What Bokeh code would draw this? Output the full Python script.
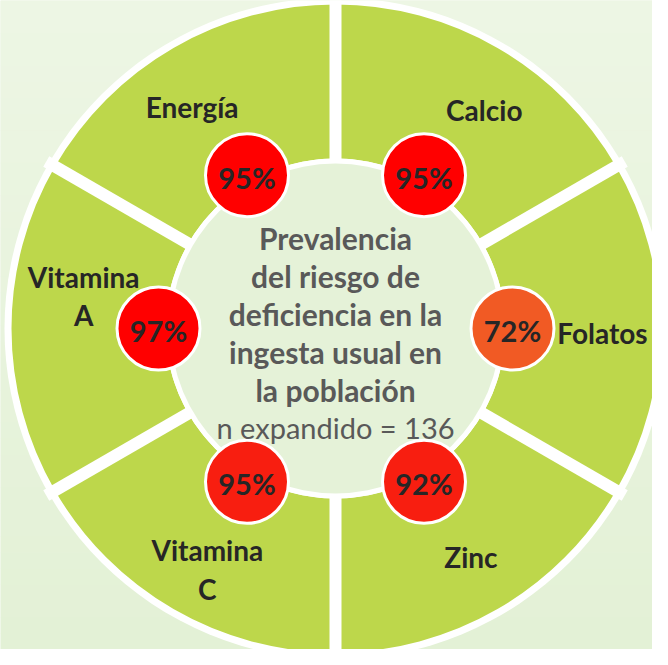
import numpy as np
from bokeh.plotting import figure
from bokeh.models import Range1d
from bokeh.core.properties import value
from bokeh.embed import file_html
from bokeh.resources import INLINE

# ---- data ----
nutrients = ["Calcio", "Folatos", "Zinc", "Vitamina\nC", "Vitamina\nA", "Energía"]
prevalence = [95, 72, 92, 95, 97, 95]
bubble_colors = ["#ff0000", "#f15a24", "#f81e10", "#f81e10", "#ff0000", "#ff0000"]
title_lines = ["Prevalencia", "del riesgo de", "deficiencia en la",
               "ingesta usual en", "la población"]
n_expandido = 136

# ---- layout tweaks for the label placement (not data) ----
label_radius = [264, 267, 266, 273, 254, 264]
label_turn = [-4.3, -1.0, 0.6, 2.0, -7.4, 2.9]   # degrees relative to segment centre

# ---- style ----
FONT = value("Lato")
GREEN = "#bdd74b"
BG_TOP = np.array([237, 246, 228])
BG_BOTTOM = np.array([227, 241, 214])
CENTER_BG = "#e5f2d8"
DARK = "#262626"
GREY = "#595959"
R_OUT, R_IN = 324, 170
R_BUBBLE = 177

X0, X1, Y0, Y1 = -335, 317, -321, 328
p = figure(width=652, height=649, x_range=Range1d(X0, X1), y_range=Range1d(Y0, Y1),
           output_backend="svg", toolbar_location=None, min_border=0,
           background_fill_color="#e8f3dd", border_fill_color="#e8f3dd")
p.axis.visible = False
p.grid.visible = False
p.outline_line_color = None

# soft vertical background gradient
nb = 40
edges = np.linspace(Y1, Y0, nb + 1)
tcol = np.linspace(0, 1, nb)
cols = ["#%02x%02x%02x" % tuple(np.round(BG_TOP + (BG_BOTTOM - BG_TOP) * t).astype(int)) for t in tcol]
p.quad(left=X0, right=X1, top=edges[:-1], bottom=edges[1:] - 0.5, fill_color=cols, line_color=None)

nseg = len(nutrients)
step = 360.0 / nseg
centers = np.array([60.0 - i * step for i in range(nseg)])
rad = np.deg2rad(centers)

# outer white ring
p.circle(x=0, y=0, radius=R_OUT + 7, fill_color="white", line_color=None)
# green segments
p.annular_wedge(x=0, y=0, inner_radius=R_IN, outer_radius=R_OUT,
                start_angle=np.deg2rad(centers - step / 2), end_angle=np.deg2rad(centers + step / 2),
                fill_color=GREEN, line_color=None)
# separators
sep = np.deg2rad(centers + step / 2)
p.segment(x0=(R_IN - 10) * np.cos(sep), y0=(R_IN - 10) * np.sin(sep),
          x1=(R_OUT + 10) * np.cos(sep), y1=(R_OUT + 10) * np.sin(sep),
          line_color="white", line_width=12, line_cap="butt")
# inner ring + center disk
p.circle(x=0, y=0, radius=R_IN, fill_color="white", line_color=None)
p.circle(x=0, y=0, radius=R_IN - 5, fill_color=CENTER_BG, line_color=None)

# bubbles
bx = R_BUBBLE * np.cos(rad)
by = R_BUBBLE * np.sin(rad)
p.circle(x=bx, y=by, radius=41.5, fill_color=bubble_colors, line_color="white", line_width=3)
p.text(x=bx, y=by - 2, text=[f"{v}%" for v in prevalence], text_font=FONT, text_font_style="bold",
       text_font_size="29px", text_color=DARK, text_align="center", text_baseline="middle")

# nutrient labels
LINE = 38.5
lx, ly, lt = [], [], []
for name, c, lr, lturn in zip(nutrients, centers, label_radius, label_turn):
    parts = name.split("\n")
    a = np.deg2rad(c + lturn)
    cx, cy = lr * np.cos(a), lr * np.sin(a)
    for i, part in enumerate(parts):
        lx.append(cx)
        ly.append(cy + (len(parts) - 1) / 2 * LINE - i * LINE)
        lt.append(part)
p.text(x=lx, y=ly, text=lt, text_font=FONT, text_font_style="bold", text_font_size="28px",
       text_color=DARK, text_align="center", text_baseline="middle")

# center text
all_lines = title_lines + [f"n expandido = {n_expandido}"]
CL = 38.0
top = (len(all_lines) - 1) / 2 * CL - 4
cy = [top - i * CL for i in range(len(all_lines))]
p.text(x=[0] * len(title_lines), y=cy[:len(title_lines)], text=title_lines, text_font=FONT,
       text_font_style="bold", text_font_size="30px", text_color=GREY,
       text_align="center", text_baseline="alphabetic")
p.text(x=[0], y=[cy[-1]], text=[all_lines[-1]], text_font=FONT, text_font_style="normal",
       text_font_size="29px", text_color=GREY, text_align="center", text_baseline="alphabetic")

open("out.html", "w").write(file_html(p, INLINE))
